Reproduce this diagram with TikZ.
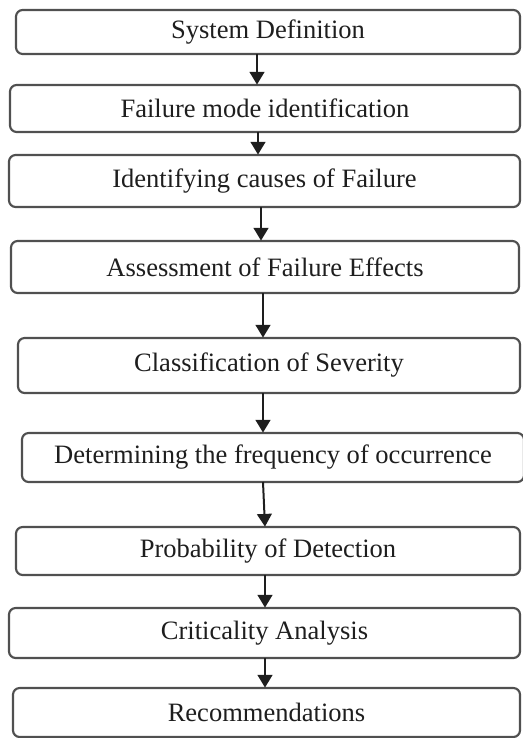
\documentclass[tikz,border=0pt]{standalone}
\usepackage{fontspec}
\setmainfont{Liberation Serif}
\usetikzlibrary{arrows.meta}
\definecolor{edge}{HTML}{505050}
\definecolor{ink}{HTML}{1E1E1E}
\tikzset{
  stepbox/.style={draw=edge, line width=1.6pt, rounded corners=5pt, fill=white,
    inner sep=0pt, outer sep=0pt, text=ink,
    font=\fontsize{19.9pt}{24pt}\selectfont},
  flow/.style={draw=ink, line width=1.5pt, -{Triangle[length=9.5pt,width=11pt]}, shorten >=0.3pt}
}
% \bx{name}{x1}{y1}{x2}{y2}{text}  (pixel coordinates, y down)
\newcommand{\bx}[6]{%
  \pgfmathsetmacro{\bxw}{(#4-#2)*0.75}%
  \pgfmathsetmacro{\bxh}{(#5-#3)*0.75}%
  \node[stepbox, minimum width=\bxw pt, minimum height=\bxh pt] (#1) at ({(#2+#4)/2},{(#3+#5)/2}) {#6};}
\begin{document}
\begin{tikzpicture}[x=0.75pt,y=-0.75pt]
\useasboundingbox (0,0) rectangle (522,738);
\bx{b1}{16}{10}{520}{54}{System Definition}
\bx{b2}{10}{85}{520}{132}{Failure mode identification}
\bx{b3}{9}{155}{520}{207}{Identifying causes of Failure}
\bx{b4}{11}{241}{519}{293}{Assessment of Failure Effects}
\bx{b5}{18}{338}{520}{393}{Classification of Severity}
\bx{b6}{22}{433}{524}{482}{Determining the frequency of occurrence}
\bx{b7}{16}{527}{520}{575}{Probability of Detection}
\bx{b8}{9}{608}{520}{658}{Criticality Analysis}
\bx{b9}{13}{688}{520}{737}{Recommendations}
\draw[flow] (b1.south -| 257,0) -- (b2.north -| 257,0);
\draw[flow] (b2.south -| 258,0) -- (b3.north -| 258,0);
\draw[flow] (b3.south -| 261,0) -- (b4.north -| 261,0);
\draw[flow] (b4.south -| 263,0) -- (b5.north -| 263,0);
\draw[flow] (b5.south -| 263,0) -- (b6.north -| 263,0);
\draw[flow] (b6.south -| 263,0) -- (b7.north -| 265,0);
\draw[flow] (b7.south -| 265,0) -- (b8.north -| 265,0);
\draw[flow] (b8.south -| 265,0) -- (b9.north -| 265,0);
\end{tikzpicture}
\end{document}
